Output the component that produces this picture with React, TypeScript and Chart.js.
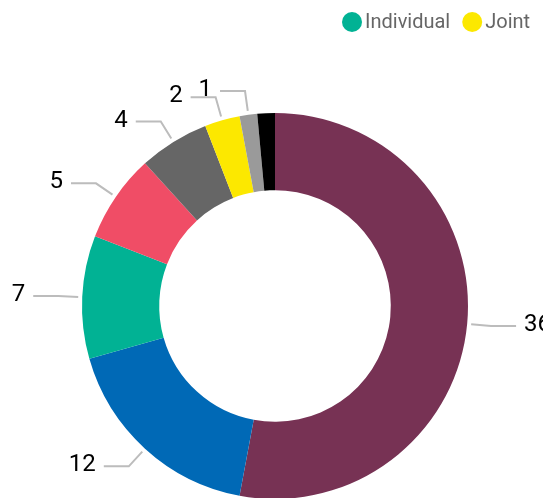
import React, { useEffect, useRef } from "react";
import { Chart, registerables } from "chart.js";

Chart.register(...registerables);

const categories = [
  "Category 1",
  "Category 2",
  "Individual",
  "Category 4",
  "Category 5",
  "Joint",
  "Category 7",
  "Category 8",
];
const values = [36, 12, 7, 5, 4, 2, 1, 1];
const colors = [
  "#773254",
  "#0069b6",
  "#01b294",
  "#f04d66",
  "#666666",
  "#fce800",
  "#9a9a9a",
  "#000000",
];
const hiddenLabels = [7];
const legendItems = ["Individual", "Joint"];

const FONT = "Roboto, 'DejaVu Sans', sans-serif";

const labelPlugin = {
  id: "leaderLabels",
  afterDatasetsDraw(chart: any) {
    const ctx = chart.ctx as CanvasRenderingContext2D;
    const meta = chart.getDatasetMeta(0);
    ctx.save();
    meta.data.forEach((arc: any, i: number) => {
      if (hiddenLabels.includes(i)) return;
      const p = arc.getProps(["x", "y", "startAngle", "endAngle", "outerRadius"], true);
      const mid = (p.startAngle + p.endAngle) / 2;
      const c = Math.cos(mid);
      const s = Math.sin(mid);
      const x0 = p.x + c * (p.outerRadius + 4);
      const y0 = p.y + s * (p.outerRadius + 4);
      const x1 = p.x + c * (p.outerRadius + 24);
      const y1 = p.y + s * (p.outerRadius + 24);
      const right = c >= 0;
      const x2 = x1 + (right ? 25 : -25);
      ctx.beginPath();
      ctx.moveTo(x0, y0);
      ctx.lineTo(x1, y1);
      ctx.lineTo(x2, y1);
      ctx.strokeStyle = "#bcbcbc";
      ctx.lineWidth = 2;
      ctx.stroke();
      ctx.font = `24px ${FONT}`;
      ctx.fillStyle = "#000000";
      ctx.textBaseline = "middle";
      ctx.textAlign = right ? "left" : "right";
      ctx.fillText(String(values[i]), x2 + (right ? 8 : -8), y1 - 1);
    });
    ctx.restore();
  },
  afterDraw(chart: any) {
    const ctx = chart.ctx as CanvasRenderingContext2D;
    ctx.save();
    ctx.font = `20px ${FONT}`;
    ctx.textBaseline = "middle";
    ctx.textAlign = "left";
    let x = 342;
    const y = 22;
    legendItems.forEach((name) => {
      const idx = categories.indexOf(name);
      ctx.beginPath();
      ctx.arc(x + 10, y, 10, 0, Math.PI * 2);
      ctx.fillStyle = colors[idx];
      ctx.fill();
      ctx.fillStyle = "#666666";
      ctx.fillText(name, x + 23, y + 1);
      x += 23 + ctx.measureText(name).width + 12;
    });
    ctx.restore();
  },
};

export default function App() {
  const canvasRef = useRef<HTMLCanvasElement | null>(null);

  useEffect(() => {
    if (!canvasRef.current) return;
    const chart = new Chart(canvasRef.current, {
      type: "doughnut",
      data: {
        labels: categories,
        datasets: [
          {
            data: values,
            backgroundColor: colors,
            borderWidth: 0,
            hoverOffset: 0,
          },
        ],
      },
      options: {
        animation: false,
        responsive: true,
        maintainAspectRatio: false,
        cutout: "60%",
        rotation: 0,
        layout: { padding: { left: 82, right: 75, top: 113, bottom: 21 } },
        plugins: {
          legend: { display: false },
          tooltip: { enabled: false },
        },
      },
      plugins: [labelPlugin],
    });
    return () => chart.destroy();
  }, []);

  return (
    <div
      style={{
        position: "absolute",
        left: 0,
        top: 0,
        width: 543,
        height: 498,
        overflow: "hidden",
        background: "#ffffff",
      }}
    >
      <div style={{ position: "relative", width: 543, height: 520 }}>
        <canvas ref={canvasRef} />
      </div>
    </div>
  );
}
